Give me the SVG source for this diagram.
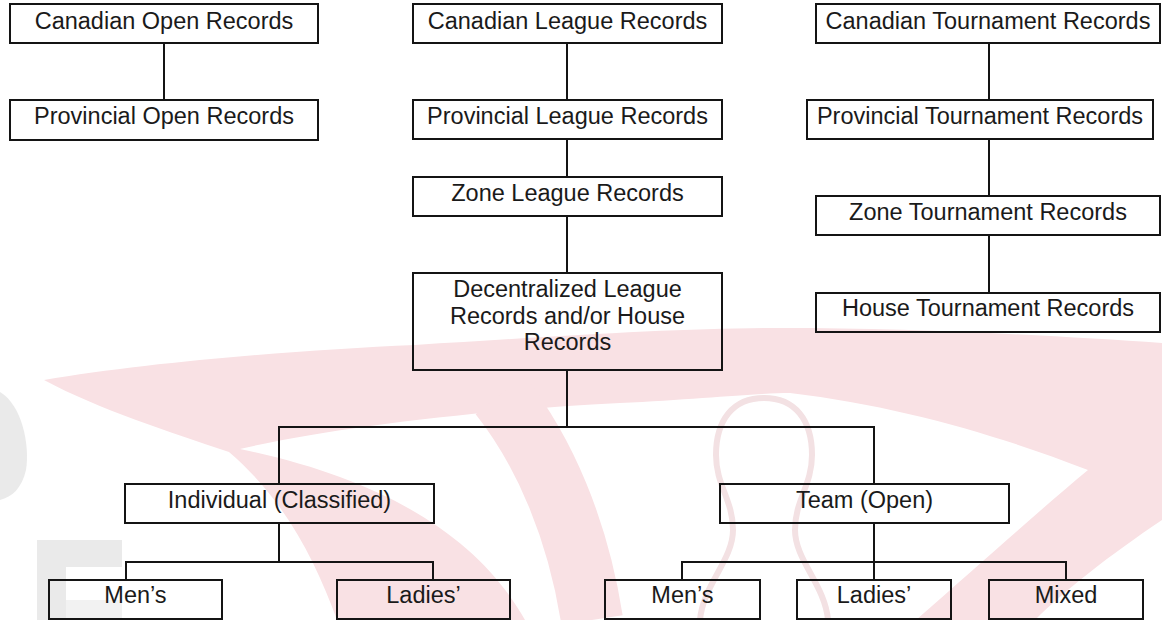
<svg xmlns="http://www.w3.org/2000/svg" width="1162" height="620" viewBox="0 0 1162 620">
<style>
.box{fill:none;stroke:#141414;stroke-width:2}
.lbl{font-family:"Liberation Sans",Arial,sans-serif;font-size:23.5px;fill:#1a1a1a;text-anchor:middle}
.wm{fill:#f9e1e4}
.wmw{fill:#ffffff}
.wmg{fill:#eaeaea}
.pin{fill:none;stroke:#f3e1e3;stroke-width:6}
#connectors path{fill:none;stroke:#141414;stroke-width:2}
</style>
<rect width="1162" height="620" fill="#ffffff"/>
<g id="watermark">
<path class="wmg" d="M0,392 C22,405 30,445 26,470 C22,488 12,497 0,500 Z"/>
<path class="wmg" d="M37,540 H122 V567 H66 V620 H37 Z"/>
<path class="wmg" d="M66,600 H122 V620 H66 Z" opacity="0.6"/>
<path class="wm" d="M44,380 C150,362 300,350 415,345 C560,336 680,328 780,328 C920,328 1060,336 1162,343 L1162,520 C1110,555 1065,590 1035,620 L337,620 C315,560 285,500 229,452 C170,432 100,410 44,380 Z"/>
<path class="wmw" d="M240,449 C330,428 480,410 620,403 C700,399 760,393 790,393 C900,406 1000,436 1088,470 C1040,510 990,555 916,620 L525,620 C480,540 390,480 240,449 Z"/>
<path d="M500,395 C545,452 578,530 592,620" fill="none" stroke="#f9e1e4" stroke-width="62"/>
<path class="pin" d="M764,398 C795,398 812,420 812,455 C812,485 795,500 795,530 C795,560 825,585 828,620 M764,398 C733,398 716,420 716,455 C716,485 733,500 733,530 C733,560 703,585 700,620"/>
</g>
<g id="connectors">
<path d="M164,43 V100"/>
<path d="M567,43 V100 M567,139 V177 M567,216 V273 M567,370 V427"/>
<path d="M989,43 V100 M989,139 V196 M989,235 V293"/>
<path d="M279,484 V427 H874 V484"/>
<path d="M279,523 V562 M126,580 V562 H433 V580"/>
<path d="M874,523 V580 M682,580 V562 H1066 V580"/>
</g>
<g id="canadian-open"><rect class="box" x="10" y="4" width="308" height="39"/><text class="lbl" x="164" y="28.5">Canadian Open Records</text></g>
<g id="provincial-open"><rect class="box" x="10" y="100" width="308" height="40"/><text class="lbl" x="164" y="124">Provincial Open Records</text></g>
<g id="canadian-league"><rect class="box" x="413" y="4" width="309" height="39"/><text class="lbl" x="567.5" y="28.5">Canadian League Records</text></g>
<g id="provincial-league"><rect class="box" x="413" y="100" width="309" height="39"/><text class="lbl" x="567.5" y="124">Provincial League Records</text></g>
<g id="zone-league"><rect class="box" x="413" y="177" width="309" height="39"/><text class="lbl" x="567.5" y="201">Zone League Records</text></g>
<g id="decentralized"><rect class="box" x="413" y="273" width="309" height="97"/><text class="lbl" x="567.5" y="297">Decentralized League</text><text class="lbl" x="567.5" y="323.5">Records and/or House</text><text class="lbl" x="567.5" y="350">Records</text></g>
<g id="canadian-tournament"><rect class="box" x="816" y="4" width="344" height="39"/><text class="lbl" x="988" y="28.5">Canadian Tournament Records</text></g>
<g id="provincial-tournament"><rect class="box" x="807" y="100" width="346" height="39"/><text class="lbl" x="980" y="124">Provincial Tournament Records</text></g>
<g id="zone-tournament"><rect class="box" x="816" y="196" width="344" height="39"/><text class="lbl" x="988" y="220">Zone Tournament Records</text></g>
<g id="house-tournament"><rect class="box" x="816" y="293" width="344" height="39"/><text class="lbl" x="988" y="316">House Tournament Records</text></g>
<g id="individual"><rect class="box" x="125" y="484" width="309" height="39"/><text class="lbl" x="279.5" y="508">Individual (Classified)</text></g>
<g id="team"><rect class="box" x="720" y="484" width="289" height="39"/><text class="lbl" x="864.5" y="508">Team (Open)</text></g>
<g id="ind-mens"><rect class="box" x="49" y="580" width="173" height="39"/><text class="lbl" x="135.5" y="603">Men’s</text></g>
<g id="ind-ladies"><rect class="box" x="337" y="580" width="173" height="39"/><text class="lbl" x="423.5" y="603">Ladies’</text></g>
<g id="team-mens"><rect class="box" x="605" y="580" width="155" height="39"/><text class="lbl" x="682.5" y="603">Men’s</text></g>
<g id="team-ladies"><rect class="box" x="797" y="580" width="154" height="39"/><text class="lbl" x="874" y="603">Ladies’</text></g>
<g id="team-mixed"><rect class="box" x="989" y="580" width="154" height="39"/><text class="lbl" x="1066" y="603">Mixed</text></g>
</svg>
